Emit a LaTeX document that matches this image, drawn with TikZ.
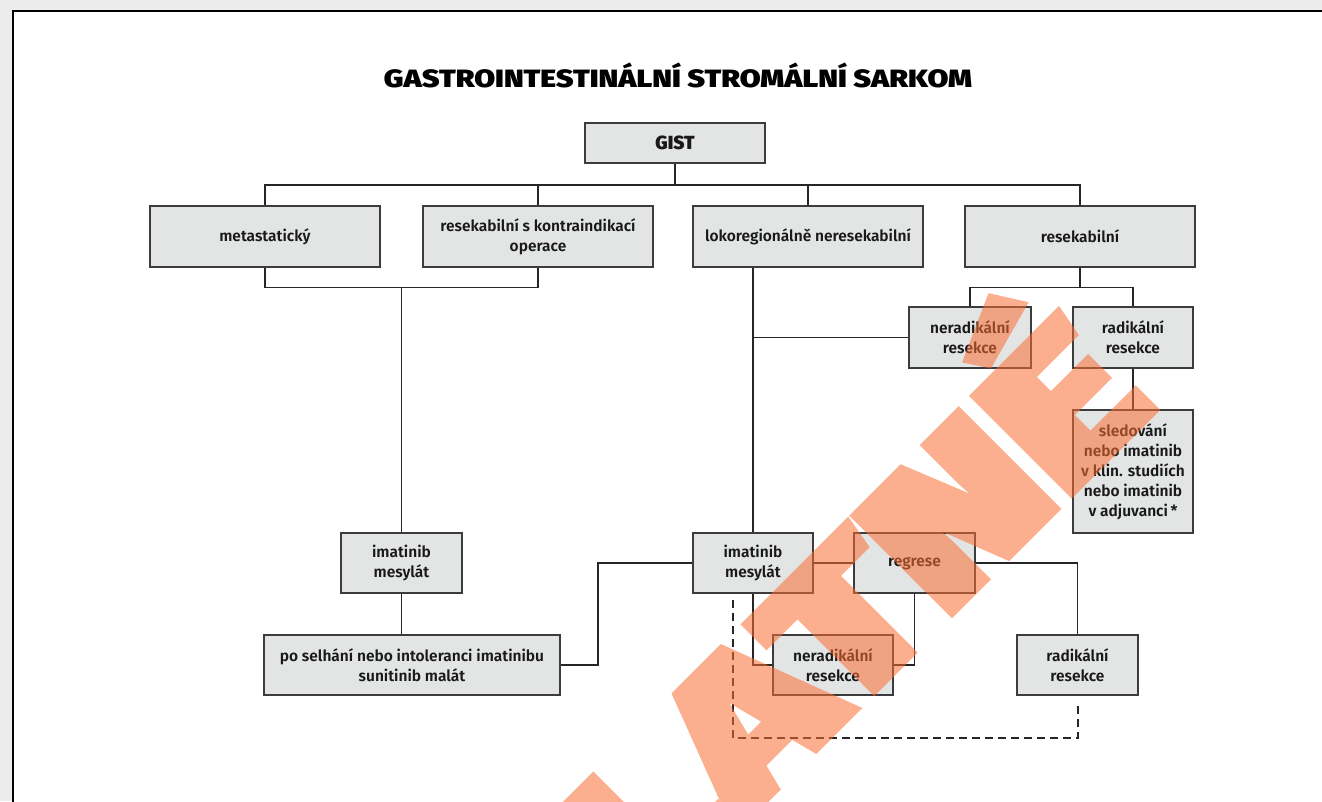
\documentclass[tikz,border=0pt]{standalone}
\usepackage{fontspec}
\usepackage{graphicx}
\setmainfont{Fira Sans}[BoldFont={Fira Sans SemiBold}]
\newfontfamily\heavyfont{Fira Sans Black}
\newfontfamily\wmfont{Fira Sans Black}[FakeBold=3]
\usetikzlibrary{calc}
\definecolor{boxfill}{RGB}{227,229,229}
\definecolor{boxline}{RGB}{60,60,60}
\definecolor{bggray}{RGB}{236,236,236}
\definecolor{wmcol}{RGB}{250,110,50}
\tikzset{
  gbox/.style={draw=boxline, fill=boxfill, line width=1.4pt, align=center,
    inner sep=2pt, font=\fontsize{15.5}{20}\selectfont\bfseries, text=black!90},
  conn/.style={draw=black!85, line width=1.2pt},
  dconn/.style={draw=black!85, line width=1.2pt, dash pattern=on 8pt off 5pt},
}
\begin{document}
\begin{tikzpicture}[x=1pt,y=-1pt]
\useasboundingbox (0,0) rectangle (1322,801);
\clip (0,0) rectangle (1322,801);
\fill[bggray] (0,0) rectangle (1322,801);
\draw[fill=white, line width=2.6pt] (13,11) rectangle (1340,820);

\node[font=\fontsize{25}{28}\selectfont\heavyfont] (title) at (678,75) {\scalebox{1.21}[1]{GASTROINTESTINÁLNÍ STROMÁLNÍ SARKOM}};

\node[gbox, minimum width=180pt, minimum height=40pt, font=\fontsize{19}{22}\selectfont\heavyfont] (gist) at (675,143) {GIST};
\node[gbox, minimum width=230pt, minimum height=61pt] (meta) at (265,236.5) {metastatický};
\node[gbox, minimum width=230pt, minimum height=61pt] (reskon) at (538,236.5) {resekabilní s kontraindikací\\operace};
\node[gbox, minimum width=230pt, minimum height=61pt] (lokoreg) at (808,236.5) {lokoregionálně neresekabilní};
\node[gbox, minimum width=230pt, minimum height=61pt] (resek) at (1080,236.5) {resekabilní};
\node[gbox, minimum width=122pt, minimum height=61pt] (nerad1) at (970,337.5) {neradikální\\resekce};
\node[gbox, minimum width=120pt, minimum height=61pt] (rad1) at (1133,337.5) {radikální\\resekce};
\node[gbox, minimum width=120pt, minimum height=123pt] (sled) at (1133,471.5) {sledování\\nebo imatinib\\v klin. studiích\\nebo imatinib\\v adjuvanci\,*};
\node[gbox, minimum width=121pt, minimum height=60pt] (ima1) at (401.5,563) {imatinib\\mesylát};
\node[gbox, minimum width=296pt, minimum height=60pt, line width=1.8pt] (posel) at (412,665) {po selhání nebo intoleranci imatinibu\\sunitinib malát};
\node[gbox, minimum width=120pt, minimum height=60pt] (ima2) at (753,563) {imatinib\\mesylát};
\node[gbox, minimum width=121pt, minimum height=60pt] (regr) at (914.5,563) {regrese};
\node[gbox, minimum width=120pt, minimum height=60pt] (nerad2) at (833,665) {neradikální\\resekce};
\node[gbox, minimum width=121pt, minimum height=60pt] (rad2) at (1077.5,665) {radikální\\resekce};

% connectors
\coordinate (bar) at (0,185);
\draw[conn] (gist.south) -- (gist.south |- bar);
\draw[conn] (meta.north) -- (meta.north |- bar) -- (resek.north |- bar) -- (resek.north);
\draw[conn] (reskon.north) -- (reskon.north |- bar);
\draw[conn] (lokoreg.north) -- (lokoreg.north |- bar);

\draw[conn] (meta.south) -- ++(0,20) -| (reskon.south);
\draw[conn] (ima1.north |- 0,287) -- (ima1.north);
\draw[conn] (ima1.south) -- (ima1.south |- posel.north);
\draw[conn] (posel.east) -- ++(37,0) |- (ima2.west);

\draw[conn] (ima2.north |- lokoreg.south) -- (ima2.north);
\draw[conn] (nerad1.west) -- (ima2.north |- nerad1.west);

\draw[conn] (resek.south) -- ++(0,20) coordinate (rj);
\draw[conn] (nerad1.north) -- (nerad1.north |- rj) -- (rad1.north |- rj) -- (rad1.north);
\draw[conn] (rad1.south) -- (sled.north);

\draw[conn] (ima2.east) -- (regr.west);
\draw[conn] (regr.east) -| (rad2.north);
\draw[conn] (ima2.south) |- (nerad2.west);
\draw[conn] (regr.south) |- (nerad2.east);

\coordinate (d1) at (733,600);
\coordinate (d2) at (1078,703);
\draw[dconn] (d1) -- (733,738) -| (d2);

% watermark
\begin{scope}[transparency group, opacity=0.55]
\node[rotate=45, anchor=base east, inner sep=0pt, text=wmcol,
  font=\fontsize{200}{200}\selectfont\wmfont] (wm) at (1160,406) {\scalebox{1.3}[1]{NEPLATNÉ}};
\end{scope}
\end{tikzpicture}
\end{document}
